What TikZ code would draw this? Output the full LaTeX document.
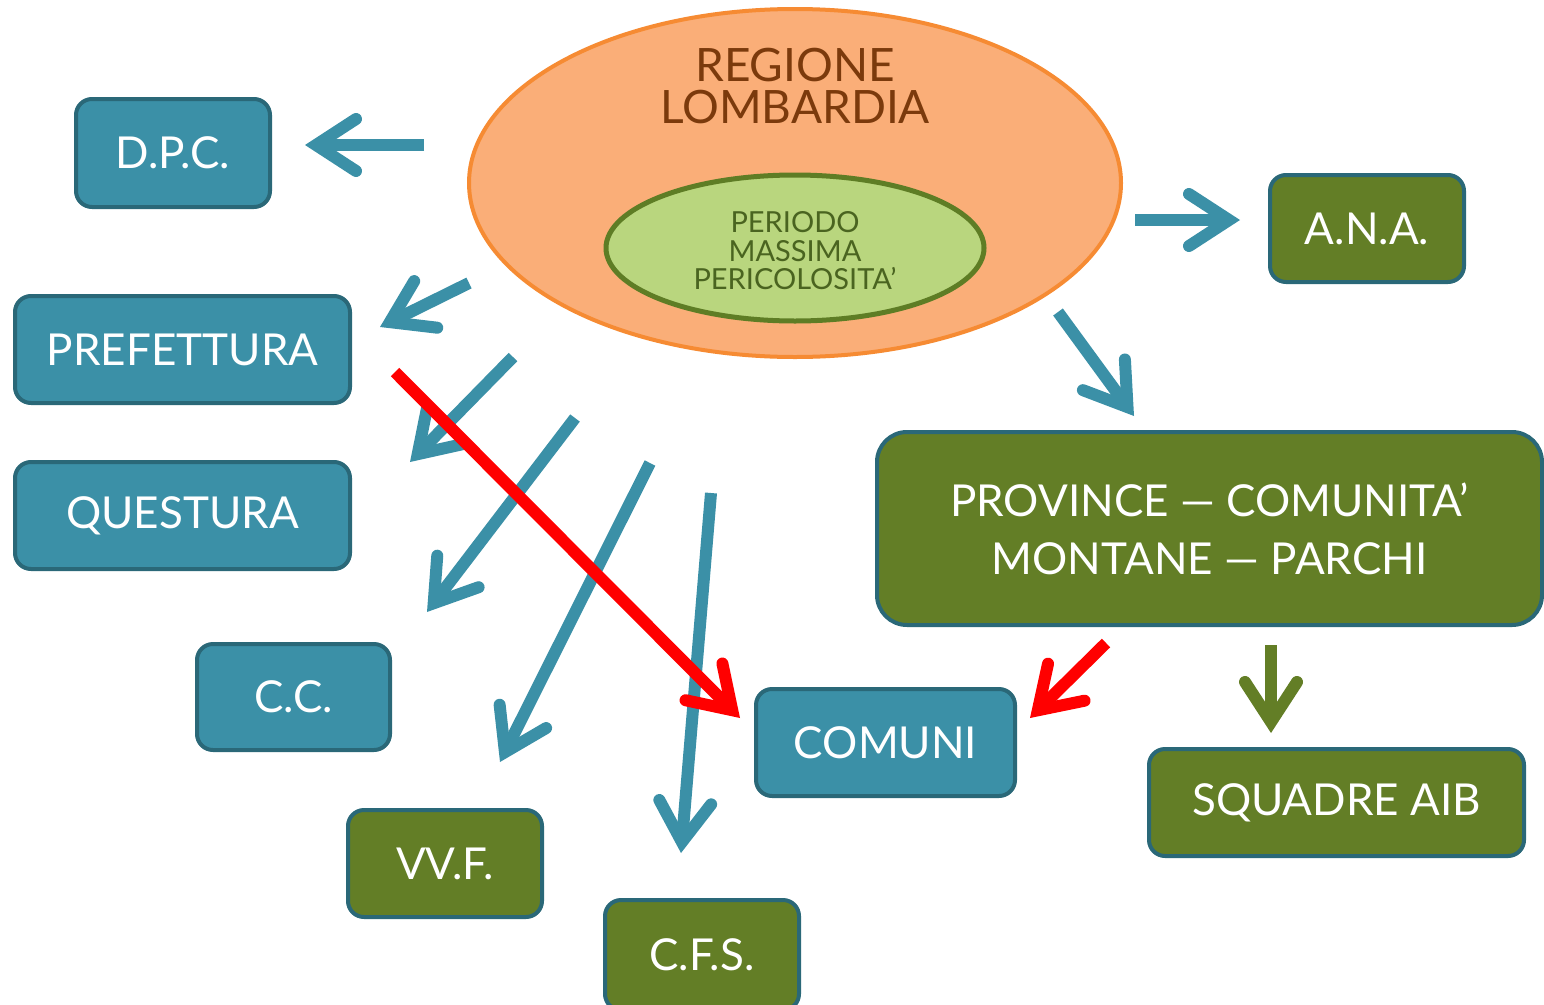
\documentclass[tikz,border=0pt]{standalone}
\usepackage{fontspec}
\setmainfont{Lato}
\usetikzlibrary{arrows.meta,shapes.geometric}
\definecolor{tealfill}{HTML}{3B90A7}
\definecolor{tealborder}{HTML}{2A6878}
\definecolor{greenfill}{HTML}{637E26}
\definecolor{orangefill}{HTML}{FAAE78}
\definecolor{orangeborder}{HTML}{F68B33}
\definecolor{limefill}{HTML}{B9D67E}
\definecolor{limeborder}{HTML}{5E7D25}
\definecolor{limetext}{HTML}{4A6420}
\definecolor{browntext}{HTML}{7B3A0C}
\definecolor{redarr}{HTML}{FF0000}
\tikzset{
  box/.style={draw=tealborder, line width=4pt, rounded corners=16pt, inner sep=0pt,
    text=white, font=\fontsize{44}{50}\selectfont, align=center},
  tealbox/.style={box, fill=tealfill},
  greenbox/.style={box, fill=greenfill},
  headtip/.style={-{Straight Barb[length=40pt,width=52pt,line cap=round,line join=miter]}},
  tealarr/.style={draw=tealfill, line width=12pt, headtip},
  greenarr/.style={draw=greenfill, line width=12pt, headtip},
  redarr/.style={draw=redarr, line width=12pt, headtip},
}
\begin{document}
\begin{tikzpicture}[x=1pt,y=-1pt]
\useasboundingbox (0,0) rectangle (1544,1004);
% ellipses
\node[ellipse, draw=orangeborder, fill=orangefill, line width=4pt,
  minimum width=652pt, minimum height=348pt, inner sep=0pt] (reg) at (795,183) {};
\node[text=browntext, font=\fontsize{46}{42}\selectfont, align=center] (regt) at (795,86) {REGIONE\\LOMBARDIA};
\node[ellipse, draw=limeborder, fill=limefill, line width=5pt,
  minimum width=378pt, minimum height=146pt, inner sep=0pt] (per) at (795,248) {};
\node[text=limetext, font=\fontsize{29}{28.5}\selectfont, align=center] (pert) at (795,251) {PERIODO\\MASSIMA\\PERICOLOSITA’};
% boxes
\node[tealbox, minimum width=194pt, minimum height=108pt] (dpc) at (173,153) {D.P.C.};
\node[tealbox, minimum width=335pt, minimum height=107pt] (pref) at (182.5,349.5) {PREFETTURA};
\node[tealbox, minimum width=335pt, minimum height=107pt] (ques) at (182.5,515.5) {QUESTURA};
\node[tealbox, minimum width=193pt, minimum height=106pt] (cc) at (293.5,697) {C.C.};
\node[greenbox, minimum width=194pt, minimum height=107pt] (vvf) at (445,863.5) {VV.F.};
\node[greenbox, minimum width=194pt, minimum height=110pt] (cfs) at (702,955) {C.F.S.};
\node[tealbox, minimum width=259pt, minimum height=107pt] (com) at (885.5,742.5) {COMUNI};
\node[greenbox, minimum width=194pt, minimum height=107pt] (ana) at (1367,228.5) {A.N.A.};
\node[greenbox, rounded corners=30pt, minimum width=665pt, minimum height=193pt,
  font=\fontsize{44}{58}\selectfont] (prov) at (1209.5,528.5) {PROVINCE — COMUNITA’\\MONTANE — PARCHI};
\node[greenbox, minimum width=375pt, minimum height=107pt] (aib) at (1336.5,802.5) {SQUADRE AIB};
% arrow coordinates
\coordinate (a1s) at (424,145); \coordinate (a1t) at (305,145);
\coordinate (a2s) at (1135,220); \coordinate (a2t) at (1240,220);
\coordinate (a3s) at (469,283); \coordinate (a3t) at (380,327);
\coordinate (a4s) at (513,357); \coordinate (a4t) at (410,462);
\coordinate (a5s) at (575,418); \coordinate (a5t) at (427,612);
\coordinate (a6s) at (650,463); \coordinate (a6t) at (500,762);
\coordinate (a7s) at (711,493); \coordinate (a7t) at (681,853);
\coordinate (a8s) at (1058,312); \coordinate (a8t) at (1134,416);
\coordinate (a9s) at (1271,645); \coordinate (a9t) at (1271,733);
\coordinate (r1s) at (395,372); \coordinate (r1t) at (740,718);
\coordinate (r2s) at (1106,643); \coordinate (r2t) at (1030,718);
% arrows
\draw[tealarr] (a1s) -- (a1t);
\draw[tealarr] (a2s) -- (a2t);
\draw[tealarr] (a3s) -- (a3t);
\draw[tealarr] (a4s) -- (a4t);
\draw[tealarr] (a5s) -- (a5t);
\draw[tealarr] (a6s) -- (a6t);
\draw[tealarr] (a7s) -- (a7t);
\draw[tealarr] (a8s) -- (a8t);
\draw[greenarr] (a9s) -- (a9t);
\draw[redarr] (r1s) -- (r1t);
\draw[redarr] (r2s) -- (r2t);
\end{tikzpicture}
\end{document}
